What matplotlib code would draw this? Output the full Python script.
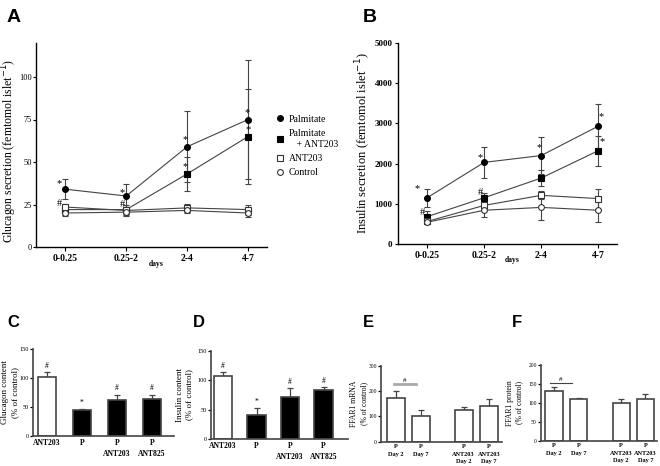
import numpy as np
import matplotlib.pyplot as plt
from matplotlib.lines import Line2D

plt.rcParams['font.family'] = 'Liberation Serif'
plt.rcParams['axes.linewidth'] = 1.0

days = ['0-0.25', '0.25-2', '2-4', '4-7']

# A - glucagon secretion (femtomol/islet)
glu_palm = [34, 30, 59, 75]
glu_palm_err = [6, 7, 21, 35]
glu_palm_ant = [22, 22, 43, 65]
glu_palm_ant_err = [3, 3, 10, 28]
glu_ant = [23.5, 21.5, 23, 22]
glu_ant_err = [2, 2, 2.5, 3]
glu_ctrl = [20, 20.5, 21.5, 20]
glu_ctrl_err = [1.5, 2.5, 1.5, 2.5]

# B - insulin secretion
ins_palm = [1150, 2030, 2200, 2930]
ins_palm_err = [220, 390, 470, 550]
ins_palm_ant = [680, 1150, 1640, 2320]
ins_palm_ant_err = [150, 130, 190, 370]
ins_ant = [560, 960, 1210, 1130]
ins_ant_err = [60, 80, 100, 250]
ins_ctrl = [540, 840, 910, 840]
ins_ctrl_err = [50, 170, 310, 290]

# C/D - hormone content
content_labels = ['ANT203', 'P', 'P\nANT203', 'P\nANT825']
glu_content = [102, 44, 62, 63]
glu_content_err = [8, 3, 9, 8]
glu_content_sig = ['#', '*', '#', '#']
ins_content = [108, 41, 72, 84]
ins_content_err = [6, 12, 15, 4]
ins_content_sig = ['#', '*', '#', '#']

# E/F - FFAR1
ffar_labels = ['P\nDay 2', 'P\nDay 7', 'P\nANT203\nDay 2', 'P\nANT203\nDay 7']
ffar_mrna = [171, 100, 124, 140]
ffar_mrna_err = [29, 24, 12, 28]
ffar_prot = [131, 109, 99, 109]
ffar_prot_err = [10, 5, 10, 14]

W, H = 660, 466
fig = plt.figure(figsize=(W / 100, H / 100), dpi=100)


def box(l, r, t, b):
    return [l / W, 1 - b / H, (r - l) / W, (b - t) / H]


def clean(ax):
    ax.spines['top'].set_visible(False)
    ax.spines['right'].set_visible(False)


series_style = [
    dict(marker='o', mfc='black', mec='black', label='Palmitate'),
    dict(marker='s', mfc='black', mec='black', label='Palmitate\n   + ANT203'),
    dict(marker='s', mfc='white', mec='#333333', label='ANT203'),
    dict(marker='o', mfc='white', mec='#333333', label='Control'),
]


def line_panel(ax, data, errs):
    x = np.arange(len(days))
    for y, e, st in zip(data, errs, series_style):
        ax.errorbar(x, y, yerr=e, color='#444444', lw=0.8, elinewidth=0.8,
                    capsize=2.5, capthick=0.8, ms=4.2, mew=0.8, **st)
    ax.set_xticks(x)
    ax.set_xticklabels(days, fontweight='bold', fontsize=7)
    clean(ax)
    ax.tick_params(length=3, width=0.8, pad=2)


# ---- A
axA = fig.add_axes(box(36, 267, 43, 247))
line_panel(axA, [glu_palm, glu_palm_ant, glu_ant, glu_ctrl],
           [glu_palm_err, glu_palm_ant_err, glu_ant_err, glu_ctrl_err])
axA.set_xlim(-0.48, 3.31)
axA.set_ylim(0, 120)
axA.set_yticks([0, 25, 50, 75, 100])
axA.tick_params(axis='y', labelsize=6, length=2, pad=1)
axA.set_ylabel('Glucagon secretion (femtomol islet$^{-1}$)', fontsize=8.5)
axA.yaxis.set_label_coords(-0.075, 0.47)
axA.text(1.5, -11, 'days', ha='center', fontsize=5.5, fontweight='bold')
for tx, ty, s in [(-0.1, 37, '*'), (-0.1, 25.5, '#'), (0.93, 32, '*'), (0.94, 25, '#'),
                  (1.97, 63, '*'), (1.97, 47, '*'), (2.99, 79, '*'), (3.0, 69, '*')]:
    axA.text(tx, ty, s, ha='center', va='center', fontsize=7.5)

proxies = [Line2D([], [], ls='none', ms=4.2, mew=0.8, marker=st['marker'], mfc=st['mfc'],
                  mec=st['mec']) for st in series_style]
fig.legend(proxies, [st['label'] for st in series_style], loc='upper left',
           bbox_to_anchor=(274 / W, 1 - 111 / H), frameon=False, fontsize=7,
           handlelength=0.5, handletextpad=0.6, labelspacing=0.55, borderaxespad=0)

# ---- B
axB = fig.add_axes(box(398, 617, 43, 244))
line_panel(axB, [ins_palm, ins_palm_ant, ins_ant, ins_ctrl],
           [ins_palm_err, ins_palm_ant_err, ins_ant_err, ins_ctrl_err])
axB.set_xlim(-0.51, 3.33)
axB.set_ylim(0, 5000)
axB.set_yticks(range(0, 5001, 1000))
axB.tick_params(axis='y', labelsize=6.5, length=2.5, pad=1.5)
for t in axB.get_yticklabels():
    t.set_fontweight('bold')
axB.set_ylabel('Insulin secretion (femtomol islet$^{-1}$)', fontsize=9)
axB.yaxis.set_label_coords(-0.112, 0.5)
axB.text(1.5, -450, 'days', ha='center', fontsize=5.5, fontweight='bold')
for tx, ty, s in [(-0.17, 1380, '*'), (-0.09, 780, '#'), (0.93, 2150, '*'), (0.94, 1290, '#'),
                  (1.97, 2410, '*'), (3.06, 3160, '*'), (3.07, 2540, '*')]:
    axB.text(tx, ty, s, ha='center', va='center', fontsize=7.5)


# ---- bar panels
def bar_panel(rect, pos, vals, errs, labels, colors, ylim, yticks, ylabel, lab_x,
              xlim, width, ylab_size, lab_size, tick_size):
    ax = fig.add_axes(rect)
    ax.bar(pos, vals, width=width, color=colors, edgecolor='#444444', linewidth=1.2, zorder=2)
    ax.errorbar(pos, vals, yerr=[[0] * len(vals), errs], fmt='none', ecolor='#444444',
                elinewidth=0.9, capsize=2.5, capthick=0.9, zorder=1)
    ax.set_xlim(*xlim)
    ax.set_ylim(*ylim)
    ax.set_yticks(yticks)
    ax.set_xticks(pos)
    ax.set_xticklabels(labels, fontsize=lab_size, fontweight='bold', linespacing=1.6)
    ax.tick_params(axis='x', length=0, pad=2)
    ax.tick_params(axis='y', length=2, width=0.9, labelsize=tick_size, pad=1)
    for sp in ('left', 'bottom'):
        ax.spines[sp].set_color('#444444')
        ax.spines[sp].set_linewidth(1.2)
    clean(ax)
    ax.set_ylabel(ylabel, fontsize=ylab_size, linespacing=1.3)
    ax.yaxis.set_label_coords(lab_x, 0.5)
    return ax


pos4 = np.arange(4)
fill = ['white', 'black', 'black', 'black']
axC = bar_panel(box(33, 174, 349, 436), pos4, glu_content, glu_content_err, content_labels,
                fill, (0, 150), [0, 50, 100, 150], 'Glucagon content\n(% of control)', -0.1,
                (-0.4, 3.63), 0.5, 6.5, 5.5, 4.5)
for p, v, e, s in zip(pos4, glu_content, glu_content_err, glu_content_sig):
    axC.text(p, v + e + 4, s, ha='center', va='bottom', fontsize=5.5)

axD = bar_panel(box(211, 348, 351, 439), pos4, ins_content, ins_content_err, content_labels,
                fill, (0, 150), [0, 50, 100, 150], 'Insulin content\n(% of control)', -0.128,
                (-0.36, 3.73), 0.55, 6.5, 5.5, 4.5)
for p, v, e, s in zip(pos4, ins_content, ins_content_err, ins_content_sig):
    axD.text(p, v + e + 4, s, ha='center', va='bottom', fontsize=5.5)

posE = np.array([0, 1, 2.71, 3.72])
axE = bar_panel(box(381, 502, 366, 441.5), posE, ffar_mrna, ffar_mrna_err, ffar_labels,
                ['white'] * 4, (0, 300), [0, 100, 200, 300], 'FFAR1 mRNA\n(% of control)', -0.105,
                (-0.6, 4.24), 0.7, 5.5, 4.5, 4)
axE.plot([-0.1, 0.8], [230, 230], color='#aaaaaa', lw=2)
axE.text(0.35, 234, '#', ha='center', va='bottom', fontsize=5)

posF = np.array([0, 1, 2.72, 3.7])
axF = bar_panel(box(541, 657, 365, 440.7), posF, ffar_prot, ffar_prot_err, ffar_labels,
                ['white'] * 4, (0, 200), [0, 50, 100, 150, 200], 'FFAR1 protein\n(% of control)',
                -0.15, (-0.53, 4.17), 0.7, 5.5, 4.5, 4)
axF.plot([-0.17, 0.72], [152, 152], color='#444444', lw=0.8)
axF.text(0.28, 155, '#', ha='center', va='bottom', fontsize=5)

# panel letters
for tx, ty, s, fs in [(7, 22, 'A', 14), (363, 22, 'B', 14), (7, 327, 'C', 12),
                      (193, 327, 'D', 12), (363, 327, 'E', 12), (512, 327, 'F', 12)]:
    fig.text(tx / W, 1 - ty / H, s, fontsize=fs, fontweight='bold', family='Liberation Sans')

fig.savefig('out.png', dpi=100)
